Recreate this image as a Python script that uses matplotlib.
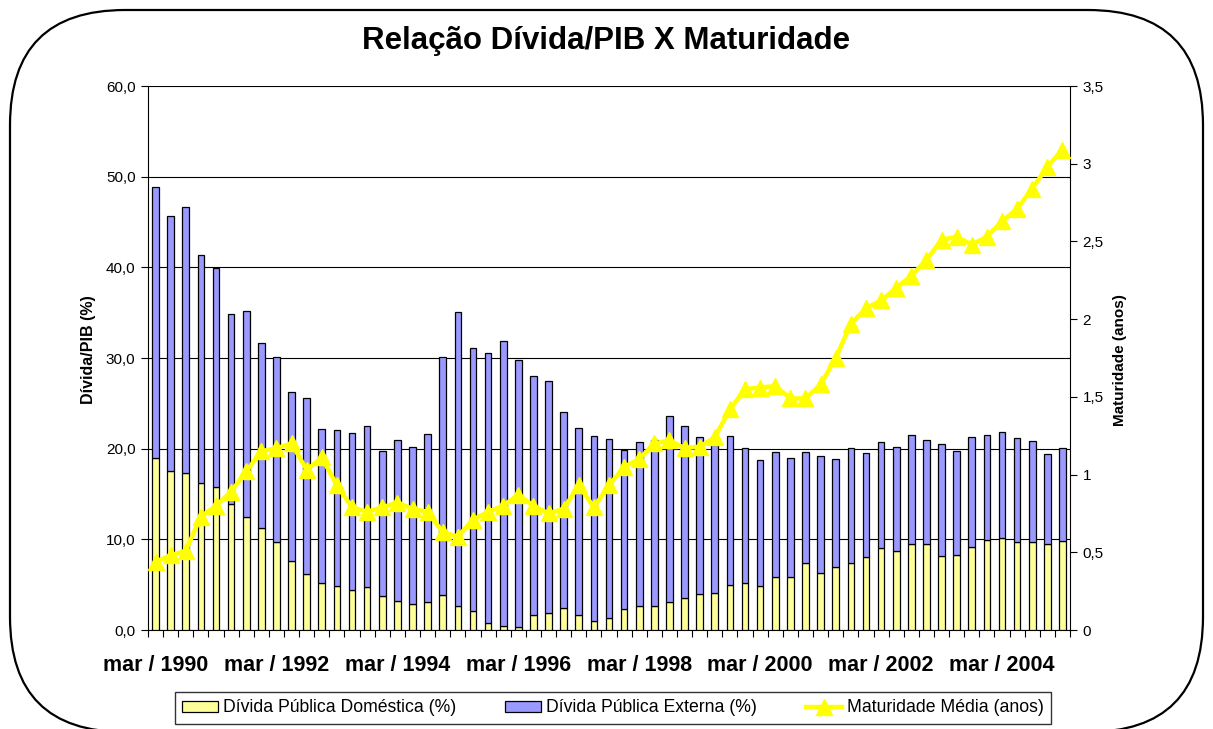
import matplotlib
matplotlib.use("Agg")
import matplotlib.pyplot as plt
from matplotlib.patches import FancyBboxPatch
import numpy as np

plt.rcParams['font.family'] = ['Liberation Sans', 'DejaVu Sans']

# ---- data ----
months = ["mar", "jun", "set", "dez"]
first_year = 1990
n_quarters = 61  # mar/1990 .. mar/2005
categories = [f"{months[i % 4]} / {first_year + i // 4}" for i in range(n_quarters)]

domestica = [18.95, 17.5, 17.3, 16.2, 15.75, 13.9, 12.5, 11.2, 9.7, 7.6,
             6.2, 5.2, 4.8, 4.4, 4.7, 3.75, 3.2, 2.9, 3.1, 3.9,
             2.65, 2.1, 0.75, 0.47, 0.28, 1.6, 1.9, 2.4, 1.7, 1.0,
             1.3, 2.3, 2.6, 2.6, 3.1, 3.55, 4.0, 4.1, 5.0, 5.2,
             4.9, 5.8, 5.85, 7.4, 6.3, 6.95, 7.4, 8.05, 9.0, 8.7,
             9.5, 9.5, 8.2, 8.3, 9.2, 9.9, 10.1, 9.7, 9.7, 9.5, 9.8]

externa = [29.9, 28.2, 29.3, 25.2, 24.2, 21.0, 22.7, 20.4, 20.4, 18.6,
           19.4, 17.0, 17.3, 17.3, 17.8, 16.0, 17.8, 17.3, 18.5, 26.2,
           32.4, 29.0, 29.8, 31.4, 29.5, 26.4, 25.6, 21.6, 20.6, 20.4,
           19.8, 17.5, 18.1, 18.4, 20.5, 18.9, 17.3, 16.3, 16.4, 14.9,
           13.9, 13.8, 13.1, 12.2, 12.9, 11.9, 12.7, 11.5, 11.7, 11.5,
           12.0, 11.5, 12.3, 11.4, 12.1, 11.6, 11.7, 11.5, 11.2, 9.9, 10.3]

maturidade = [0.44, 0.48, 0.51, 0.73, 0.80, 0.89, 1.02, 1.15, 1.17, 1.20,
              1.03, 1.11, 0.93, 0.79, 0.76, 0.79, 0.82, 0.78, 0.76, 0.63,
              0.60, 0.71, 0.76, 0.80, 0.87, 0.80, 0.75, 0.78, 0.93, 0.79,
              0.93, 1.05, 1.10, 1.20, 1.22, 1.17, 1.18, 1.24, 1.42, 1.55,
              1.56, 1.57, 1.49, 1.49, 1.58, 1.75, 1.97, 2.07, 2.12, 2.20,
              2.28, 2.38, 2.51, 2.53, 2.48, 2.53, 2.63, 2.71, 2.84, 2.98, 3.09]

left_ticks = [0, 10, 20, 30, 40, 50, 60]
left_ticklabels = ["0,0", "10,0", "20,0", "30,0", "40,0", "50,0", "60,0"]
right_ticks = [0, 0.5, 1, 1.5, 2, 2.5, 3, 3.5]
right_ticklabels = ["0", "0,5", "1", "1,5", "2", "2,5", "3", "3,5"]

W, H = 1213, 729
fig = plt.figure(figsize=(W / 100, H / 100), dpi=100)
fig.patch.set_facecolor("white")

# rounded border
bg = fig.add_axes([0, 0, 1, 1], zorder=-5)
bg.set_xlim(0, W)
bg.set_ylim(H, 0)
bg.axis("off")
bg.add_patch(FancyBboxPatch((10, 10), W - 20, 722, boxstyle="round,pad=0,rounding_size=115",
                            facecolor="white", edgecolor="black", lw=1.6))

ax = fig.add_axes([148 / W, (H - 630) / H, (1070 - 148) / W, (630 - 86) / H])
ax.set_facecolor("none")
x = np.arange(n_quarters)
bw = 0.44
b1 = ax.bar(x, domestica, width=bw, color="#FFFF99", edgecolor="black", lw=0.9, zorder=3,
            label="Dívida Pública Doméstica (%)")
b2 = ax.bar(x, externa, width=bw, bottom=domestica, color="#9999FF", edgecolor="black", lw=0.9,
            zorder=3, label="Dívida Pública Externa (%)")
ax.set_xlim(-0.5, n_quarters - 0.5)
ax.set_ylim(0, 60)
ax.set_yticks(left_ticks)
ax.set_yticklabels(left_ticklabels)
ax.yaxis.grid(True, color="black", lw=0.8, zorder=0)
ax.set_axisbelow(True)
for s in ["top", "right"]:
    ax.spines[s].set_visible(False)
ax.spines["left"].set_color("black")
ax.spines["bottom"].set_color("black")
ax.tick_params(axis="y", direction="out", length=5, width=0.8, labelsize=11, pad=4)

# category boundary ticks (major) and labels (minor)
ax.set_xticks(np.arange(n_quarters + 1) - 0.5)
ax.set_xticklabels([])
ax.tick_params(axis="x", which="major", direction="out", length=5, width=0.8)
lab_idx = list(range(0, n_quarters, 8))
ax.set_xticks(lab_idx, minor=True)
ax.set_xticklabels([categories[i] for i in lab_idx], minor=True, fontsize=15.5, fontweight="bold")
ax.tick_params(axis="x", which="minor", length=0, pad=18)

ax2 = ax.twinx()
ax2.set_position(ax.get_position())
ln, = ax2.plot(x, maturidade, color="#FFFF00", lw=3.2, marker="^", ms=11, mec="#FFFF00",
               mfc="#FFFF00", zorder=5, clip_on=False, label="Maturidade Média (anos)")
ax2.set_ylim(0, 3.5)
ax2.set_yticks(right_ticks)
ax2.set_yticklabels(right_ticklabels)
for s in ["top", "left", "bottom"]:
    ax2.spines[s].set_visible(False)
ax2.spines["right"].set_color("black")
ax2.tick_params(axis="y", direction="out", length=5, width=0.8, labelsize=11, pad=4)

fig.text(0.5, 1 - 41 / H, "Relação Dívida/PIB X Maturidade", ha="center", va="center",
         fontsize=22.5, fontweight="bold")
fig.text(89 / W, 1 - 350 / H, "Dívida/PIB (%)", rotation=90, ha="center", va="center",
         fontsize=11.5, fontweight="bold")
fig.text(1120 / W, 1 - 360 / H, "Maturidade (anos)", rotation=90, ha="center", va="center",
         fontsize=11, fontweight="bold")

leg = fig.legend(handles=[b1, b2, ln], loc="center", bbox_to_anchor=(613 / W, 1 - 708 / H),
                 ncol=3, frameon=True, fancybox=False, edgecolor="black", fontsize=12.7,
                 handlelength=2.0, handleheight=0.6, handletextpad=0.3, columnspacing=2.8,
                 borderpad=0.4)
leg.get_frame().set_linewidth(1.0)

fig.savefig("out.png", dpi=100, facecolor="white")
